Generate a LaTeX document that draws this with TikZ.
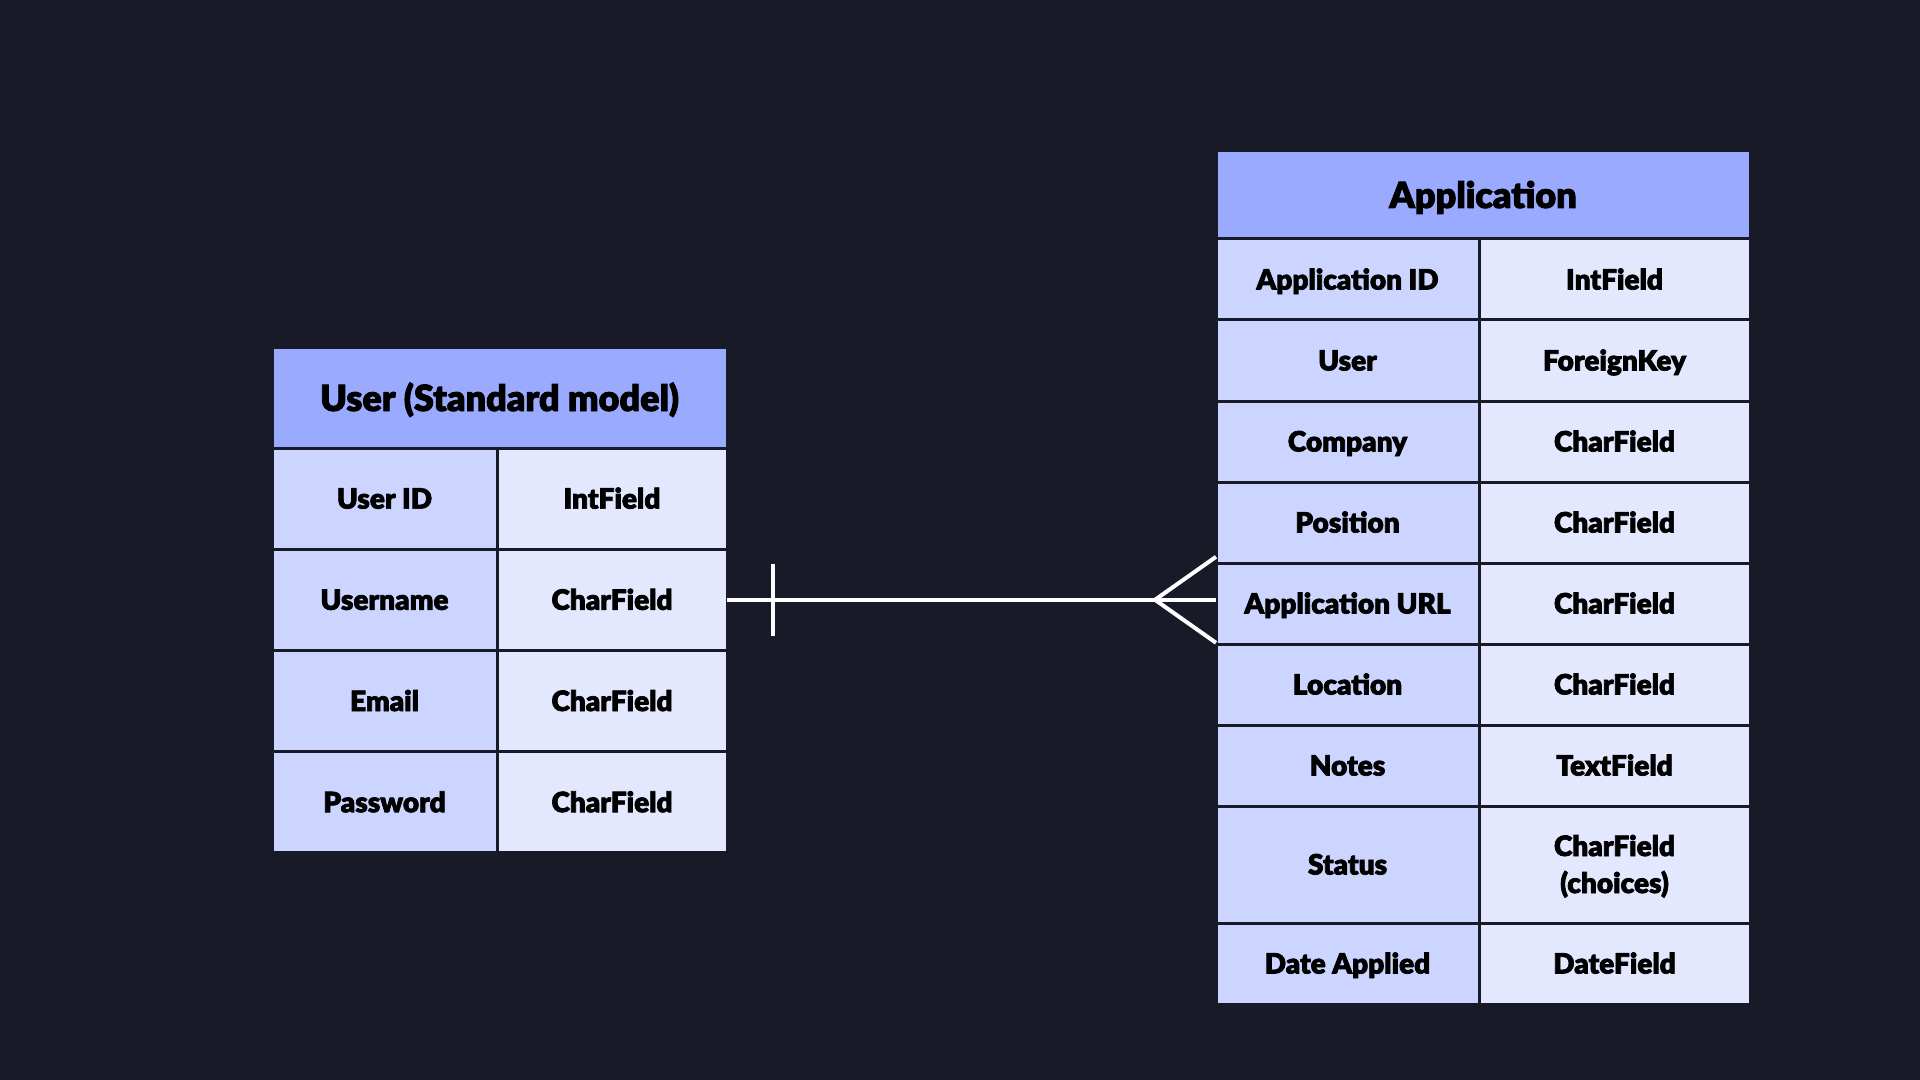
\documentclass[tikz,border=0pt]{standalone}
\usepackage{fontspec}
\setmainfont{Lato}[BoldFont={Lato Black}, BoldFeatures={FakeBold=2.5}]
\usetikzlibrary{positioning}
\definecolor{bgdark}{HTML}{181A28}
\definecolor{headblue}{HTML}{99AAFF}
\definecolor{keyblue}{HTML}{CCD5FF}
\definecolor{typeblue}{HTML}{E3E8FF}

\begin{document}
\begin{tikzpicture}[
	x=0.5pt, y=-0.5pt,
	cell/.style={draw=bgdark, line width=1.5pt, inner sep=0pt, outer sep=0pt, align=center,
		text height=10pt, text depth=0pt, font=\fontsize{14}{18.5}\selectfont\bfseries},
	head/.style={cell, fill=headblue, text height=13pt, font=\fontsize{18}{21}\selectfont\bfseries},
	ukey/.style={cell, fill=keyblue, minimum width=112.5pt, minimum height=50.6pt},
	utype/.style={cell, fill=typeblue, minimum width=115pt, minimum height=50.6pt},
	akey/.style={cell, fill=keyblue, minimum width=131.5pt, minimum height=40.5pt},
	atype/.style={cell, fill=typeblue, minimum width=135.5pt, minimum height=40.5pt},
	rel/.style={draw=white, line width=2pt}]
\fill[bgdark] (0,0) rectangle (1920,1080);
\useasboundingbox (0,0) rectangle (1920,1080);

% User table
\node[head, minimum width=227.5pt, minimum height=50pt] (uhead) at (499.5,398) {User (Standard model)};
\node[ukey, below right=0pt of uhead.south west] (ukey1) {User ID};
\node[utype, right=0pt of ukey1] (utype1) {IntField};
\node[ukey, below=0pt of ukey1] (ukey2) {Username};
\node[utype, right=0pt of ukey2] (utype2) {CharField};
\node[ukey, below=0pt of ukey2] (ukey3) {Email};
\node[utype, right=0pt of ukey3] (utype3) {CharField};
\node[ukey, below=0pt of ukey3] (ukey4) {Password};
\node[utype, right=0pt of ukey4] (utype4) {CharField};

% Application table
\node[head, minimum width=267pt, minimum height=44pt] (ahead) at (1483,195) {Application};
\node[akey, below right=0pt of ahead.south west] (akey1) {Application ID};
\node[atype, right=0pt of akey1] (atype1) {IntField};
\node[akey, below=0pt of akey1] (akey2) {User};
\node[atype, right=0pt of akey2] (atype2) {ForeignKey};
\node[akey, below=0pt of akey2] (akey3) {Company};
\node[atype, right=0pt of akey3] (atype3) {CharField};
\node[akey, below=0pt of akey3] (akey4) {Position};
\node[atype, right=0pt of akey4] (atype4) {CharField};
\node[akey, below=0pt of akey4] (akey5) {Application URL};
\node[atype, right=0pt of akey5] (atype5) {CharField};
\node[akey, below=0pt of akey5] (akey6) {Location};
\node[atype, right=0pt of akey6] (atype6) {CharField};
\node[akey, below=0pt of akey6] (akey7) {Notes};
\node[atype, right=0pt of akey7] (atype7) {TextField};
\node[akey, below=0pt of akey7, minimum height=58.5pt] (akey8) {Status};
\node[atype, right=0pt of akey8, minimum height=58.5pt, text height=28.5pt] (atype8) {CharField\\(choices)};
\node[akey, below=0pt of akey8] (akey9) {Date Applied};
\node[atype, right=0pt of akey9] (atype9) {DateField};

% one user -- many applications
\coordinate (fkend) at (utype2.east -| akey5.west);
\coordinate (bartop) at ([xshift=23pt, yshift=18pt]utype2.east);
\coordinate (barbot) at ([xshift=23pt, yshift=-18pt]utype2.east);
\coordinate (crow) at ([xshift=-30.5pt]fkend);
\coordinate (crowtop) at ([yshift=21.5pt]fkend);
\coordinate (crowbot) at ([yshift=-21.5pt]fkend);
\draw[rel] (utype2.east) -- (fkend);
\draw[rel] (bartop) -- (barbot);
\draw[rel] (crowtop) -- (crow) -- (crowbot);
\end{tikzpicture}
\end{document}
